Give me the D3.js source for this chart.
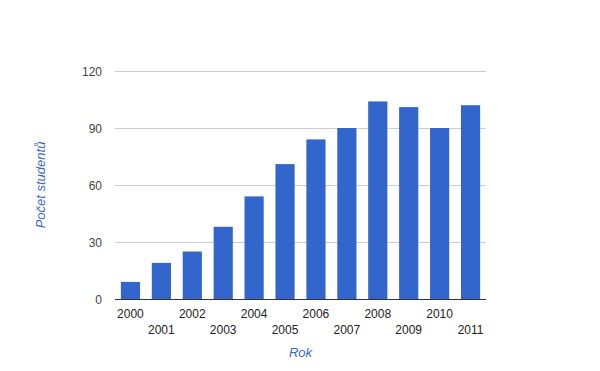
<!DOCTYPE html>
<html>
<head>
<meta charset="utf-8">
<script src="https://cdn.jsdelivr.net/npm/d3@7"></script>
<style>
  body { margin: 0; background: #fff; }
  text { font-family: Arial, "Liberation Sans", sans-serif; }
</style>
</head>
<body>
<script>
// chart data
var years = ['2000', '2001', '2002', '2003', '2004', '2005', '2006', '2007', '2008', '2009', '2010', '2011'];
var students = [9, 19, 25, 38, 54, 71, 84, 90, 104, 101, 90, 102];
var yTicks = [0, 30, 60, 90, 120];

var width = 600, height = 371;
var plot = { left: 115, right: 486, top: 71, bottom: 299 };

var svg = d3.select('body').append('svg')
    .attr('width', width)
    .attr('height', height);

var x = d3.scaleBand()
    .domain(years)
    .range([plot.left, plot.right])
    .paddingInner(0.38)
    .paddingOuter(0.19);

var y = d3.scaleLinear()
    .domain([0, 120])
    .range([plot.bottom, plot.top]);

// gridlines
svg.append('g')
    .selectAll('line')
    .data(yTicks.filter(function (d) { return d > 0; }))
    .enter().append('line')
    .attr('x1', plot.left)
    .attr('x2', plot.right)
    .attr('y1', function (d) { return Math.round(y(d)) + 0.5; })
    .attr('y2', function (d) { return Math.round(y(d)) + 0.5; })
    .attr('stroke', '#cccccc');

// y tick labels
svg.append('g')
    .selectAll('text')
    .data(yTicks)
    .enter().append('text')
    .attr('x', plot.left - 13)
    .attr('y', function (d) { return y(d) + 4.5; })
    .attr('text-anchor', 'end')
    .attr('font-size', 12)
    .attr('fill', '#444444')
    .text(function (d) { return d; });

// bars
svg.append('g')
    .selectAll('rect')
    .data(students)
    .enter().append('rect')
    .attr('x', function (d, i) { return x(years[i]); })
    .attr('width', x.bandwidth())
    .attr('y', function (d) { return y(d); })
    .attr('height', function (d) { return y(0) - y(d); })
    .attr('fill', '#3366cc');

// baseline
svg.append('line')
    .attr('x1', plot.left)
    .attr('x2', plot.right)
    .attr('y1', Math.round(y(0)) + 0.5)
    .attr('y2', Math.round(y(0)) + 0.5)
    .attr('stroke', '#333333');

// x tick labels, staggered in two rows
svg.append('g')
    .selectAll('text')
    .data(years)
    .enter().append('text')
    .attr('x', function (d) { return x(d) + x.bandwidth() / 2; })
    .attr('y', function (d, i) { return i % 2 === 0 ? 318 : 334; })
    .attr('text-anchor', 'middle')
    .attr('font-size', 12)
    .attr('fill', '#222222')
    .text(function (d) { return d; });

// axis titles
svg.append('text')
    .attr('x', (plot.left + plot.right) / 2)
    .attr('y', 357)
    .attr('text-anchor', 'middle')
    .attr('font-size', 13)
    .attr('font-style', 'italic')
    .attr('fill', '#3366cc')
    .text('Rok');

svg.append('text')
    .attr('transform', 'translate(45,' + (plot.top + plot.bottom) / 2 + ') rotate(-90)')
    .attr('text-anchor', 'middle')
    .attr('font-size', 13)
    .attr('font-style', 'italic')
    .attr('fill', '#3366cc')
    .text('Počet studentů');
</script>
</body>
</html>
